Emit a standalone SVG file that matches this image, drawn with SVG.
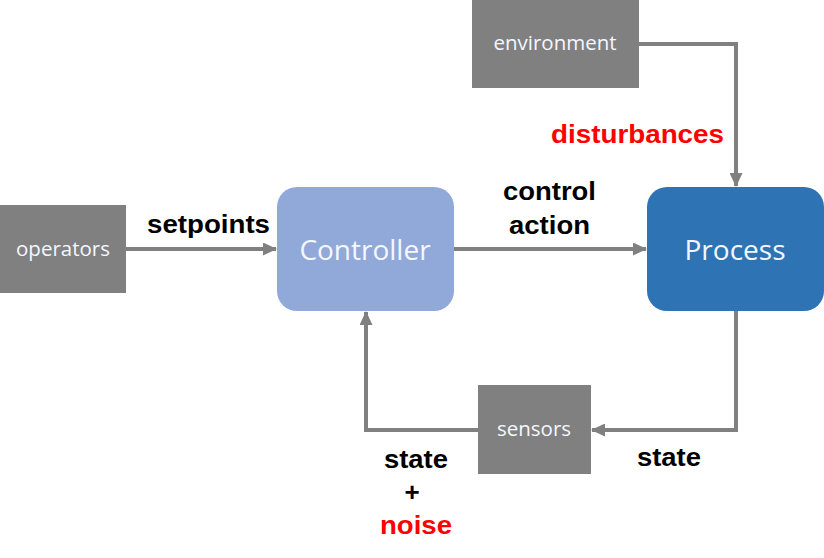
<svg xmlns="http://www.w3.org/2000/svg" width="824" height="558" viewBox="0 0 824 558">
<style>
.box{fill:#808080}
.nlabel{font-family:"Open Sans","Noto Sans",sans-serif;fill:#f4f7ff;text-anchor:middle}
.small{font-size:20.5px}
.big{font-size:28px}
.lbl{font-family:"Liberation Sans",Arial,sans-serif;font-weight:bold;font-size:26px;fill:#000000;text-anchor:middle}
.red{fill:#ff0000}
.conn{fill:none;stroke:#808080;stroke-width:4}
</style>
<defs>
<marker id="arr" viewBox="0 0 14 13" refX="13" refY="6.5" markerWidth="14" markerHeight="13" markerUnits="userSpaceOnUse" orient="auto">
<path d="M0,0 L14,6.5 L0,13 Z" fill="#808080"/>
</marker>
</defs>
<rect width="824" height="558" fill="#ffffff"/>
<g id="connectors">
<path class="conn" d="M126,249 H276" marker-end="url(#arr)"/>
<path class="conn" d="M454,249 H646" marker-end="url(#arr)"/>
<path class="conn" d="M639,44 H736 V186" marker-end="url(#arr)"/>
<path class="conn" d="M736,311 V430 H592" marker-end="url(#arr)"/>
<path class="conn" d="M478,430 H366 V312" marker-end="url(#arr)"/>
</g>
<g id="operators">
<rect class="box" x="0" y="205" width="126" height="88"/>
<text class="nlabel small" x="63" y="256">operators</text>
</g>
<g id="controller">
<rect x="277" y="187" width="177" height="124" rx="20" ry="20" fill="#91A9D9"/>
<text class="nlabel big" x="365" y="260">Controller</text>
</g>
<g id="process">
<rect x="647" y="187" width="177" height="124" rx="20" ry="20" fill="#2E74B5"/>
<text class="nlabel big" x="735" y="260">Process</text>
</g>
<g id="environment">
<rect class="box" x="472" y="0" width="167" height="88"/>
<text class="nlabel small" x="555" y="50">environment</text>
</g>
<g id="sensors">
<rect class="box" x="478" y="385" width="113" height="89"/>
<text class="nlabel small" x="534" y="436">sensors</text>
</g>
<g id="labels">
<text class="lbl" x="208.5" y="233" textLength="123" lengthAdjust="spacingAndGlyphs">setpoints</text>
<text class="lbl" x="549.5" y="200" textLength="93" lengthAdjust="spacingAndGlyphs">control</text>
<text class="lbl" x="549.5" y="234" textLength="81" lengthAdjust="spacingAndGlyphs">action</text>
<text class="lbl red" x="637.5" y="143" textLength="173" lengthAdjust="spacingAndGlyphs">disturbances</text>
<text class="lbl" x="669" y="466" textLength="64" lengthAdjust="spacingAndGlyphs">state</text>
<text class="lbl" x="416" y="468" textLength="64" lengthAdjust="spacingAndGlyphs">state</text>
<text class="lbl" x="412" y="501">+</text>
<text class="lbl red" x="416" y="534" textLength="72" lengthAdjust="spacingAndGlyphs">noise</text>
</g>
</svg>
